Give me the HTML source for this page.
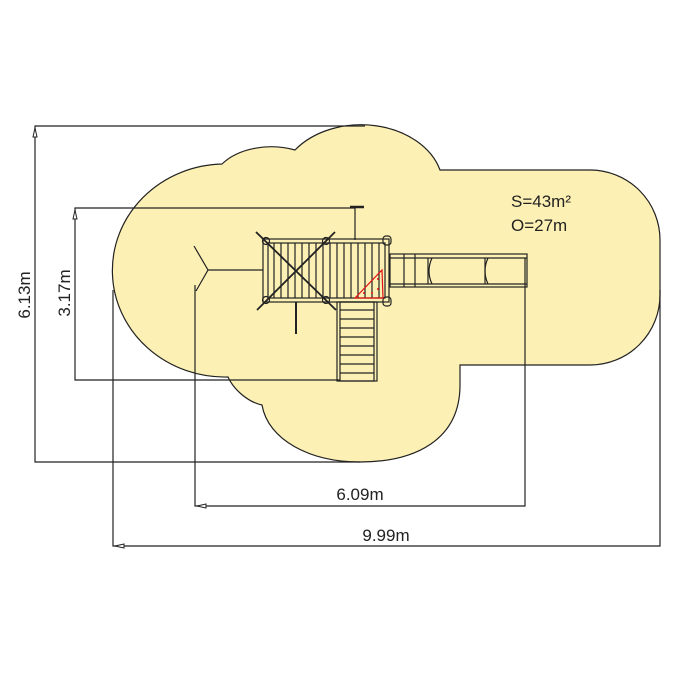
<!DOCTYPE html>
<html><head><meta charset="utf-8"><style>
html,body{margin:0;padding:0;background:#fff;}
svg{display:block;}
text{font-family:"Liberation Sans","DejaVu Sans",sans-serif;fill:#222;}
</style></head><body>
<svg width="675" height="675" viewBox="0 0 675 675" xmlns="http://www.w3.org/2000/svg">
<path d="M 440,170 L 590,170 A 70,70 0 0 1 660,240 L 660,295 A 70,70 0 0 1 590,365 L 460,365 L 460,385 C 460,440 415,462 360,462 C 310,462 268,440 262,405 C 248,402 234,390 228,377 A 112,106 0 1 1 222,164 A 60,40 0 0 1 295,150 A 82,62 0 0 1 440,170 Z" fill="#fdf0b5" stroke="#222" stroke-width="1.2"/>
<g stroke="#222" stroke-width="1.2" fill="none">
<polyline points="365,126 35,126 35,462 360,462"/>
<polyline points="355,208 75,208 75,380 340,380"/>
<polyline points="195,285 195,506 525,506 525,258"/>
<polyline points="113,290 113,546 660,546 660,290"/>
</g>
<g fill="#fff" stroke="#222" stroke-width="1">
<polygon points="35,128 33,137 37,137"/>
<polygon points="75,210 73,219 77,219"/>
<polygon points="197,506 206,504 206,508"/>
<polygon points="115,546 124,544 124,548"/>
</g>
<text x="30" y="295" font-size="17" transform="rotate(-90 30 295)" text-anchor="middle">6.13m</text>
<text x="70" y="293" font-size="17" transform="rotate(-90 70 293)" text-anchor="middle">3.17m</text>
<text x="360" y="500" font-size="17" text-anchor="middle">6.09m</text>
<text x="386" y="541" font-size="17" text-anchor="middle">9.99m</text>
<text x="511" y="207" font-size="17">S=43m²</text>
<text x="511" y="231" font-size="17">O=27m</text>
<g stroke="#222" stroke-width="1.2" fill="none">
<line x1="355" y1="207" x2="355" y2="240"/>
<line x1="350" y1="207" x2="364" y2="207" stroke-width="2.5"/>
<rect x="263" y="239" width="126" height="63"/>
<rect x="268" y="243" width="117" height="55"/>
<path d="M274,243V298M281,243V298M288,243V298M295,243V298M302,243V298M309,243V298M316,243V298M323,243V298M330,243V298M337,243V298M344,243V298M351,243V298M358,243V298M365,243V298M372,243V298M379,243V298"/>
<line x1="256" y1="232" x2="336" y2="310" stroke-width="1.8"/>
<line x1="335" y1="232" x2="257" y2="310" stroke-width="1.8"/>
<circle cx="266" cy="241" r="3.5"/><circle cx="326" cy="241" r="3.5"/>
<circle cx="266" cy="300" r="3.5"/><circle cx="326" cy="300" r="3.5"/>
<rect x="383" y="236" width="8" height="9" rx="3"/><rect x="383" y="297" width="8" height="9" rx="3"/>
<line x1="208" y1="270" x2="263" y2="270"/>
<polyline points="194,246 208,270 196,291"/>
<line x1="296" y1="302" x2="296" y2="334" stroke-width="2"/>
<rect x="337" y="302" width="40" height="79"/>
<rect x="340" y="302" width="34" height="79"/>
<path d="M340,310H374M340,319H374M340,328H374M340,337H374M340,346H374M340,355H374M340,364H374M340,373H374"/>
<rect x="390" y="254" width="137" height="33"/>
<path d="M390,258H527M390,284H527M404,254V287M415,254V287M428,258V284M485,258V284"/>
<path d="M432,258Q426,271 432,284M488,258Q482,271 488,284"/>
</g>
<polygon points="355,298 382,270 383,298" fill="none" stroke="#e01010" stroke-width="1.2"/>
<g fill="#e01010"><circle cx="378" cy="279" r="1"/><circle cx="378" cy="289" r="1"/><circle cx="364" cy="293" r="1"/><circle cx="372" cy="293" r="1"/></g>
</svg>
</body></html>
